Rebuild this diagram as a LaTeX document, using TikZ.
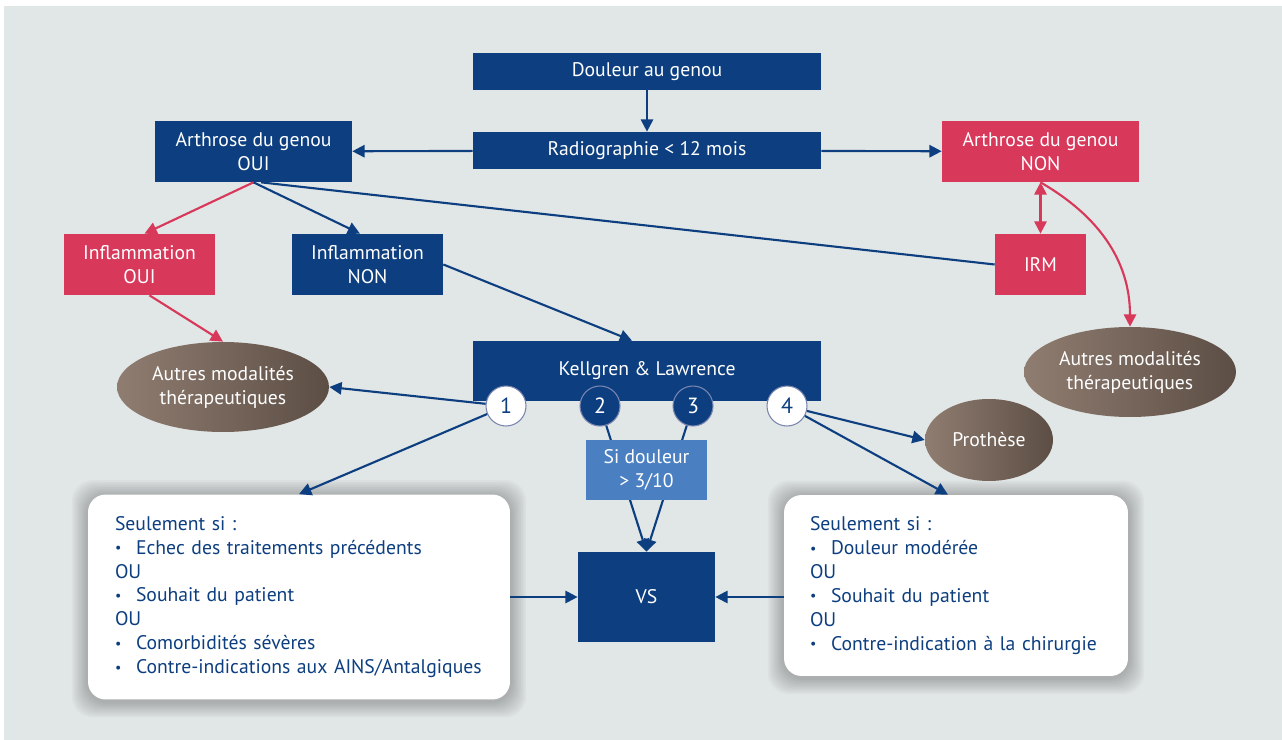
\documentclass[tikz,border=0pt]{standalone}
\usepackage{fontspec}
\setmainfont{PT Sans}
\usetikzlibrary{arrows.meta,shapes.geometric,backgrounds}
\definecolor{navy}{HTML}{0D3F80}
\definecolor{rose}{HTML}{D8385A}
\definecolor{sky}{HTML}{4A80C2}
\definecolor{bggray}{HTML}{E1E6E6}
\definecolor{brownL}{HTML}{907D71}
\definecolor{brownD}{HTML}{5C4E45}
\definecolor{ringline}{HTML}{7A86B0}
\newcommand{\itemdot}{\makebox[0.42cm][l]{\raisebox{0.15ex}{\footnotesize\textbullet}}}
\tikzset{
  bluebox/.style={fill=navy,text=white,align=center,inner sep=0pt},
  redbox/.style={fill=rose,text=white,align=center,inner sep=0pt},
  skybox/.style={fill=sky,text=white,align=center,inner sep=0pt},
  oval/.style={ellipse,left color=brownL,right color=brownD,text=white,align=center,inner sep=0pt},
  numw/.style={circle,fill=white,draw=ringline,line width=0.6pt,text=navy,minimum size=0.8cm,inner sep=0pt,font=\fontsize{12.5}{14}\selectfont},
  numb/.style={circle,fill=navy,draw=ringline,line width=0.6pt,text=white,minimum size=0.8cm,inner sep=0pt,font=\fontsize{12.5}{14}\selectfont},
  card/.style={rounded corners=10pt,fill=white,text=navy,align=left,inner sep=0pt},
  glow/.style={fill=black,opacity=0.028,rounded corners=12pt},
  arr/.style={draw=navy,line width=1.2pt,-{Triangle[length=7pt,width=7pt]}},
  redarr/.style={draw=rose,line width=1.2pt,-{Triangle[length=7pt,width=7pt]}},
  link/.style={draw=navy,line width=1.2pt}
}
\begin{document}
\begin{tikzpicture}[x=0.02cm,y=-0.02cm,font=\fontsize{11.2}{13.6}\selectfont]
\useasboundingbox (0,0) rectangle (1282,740);

\node[bluebox,minimum width=6.96cm,minimum height=0.74cm] (pain) at (647,71.5) {Douleur au genou};
\node[bluebox,minimum width=6.96cm,minimum height=0.74cm] (xray) at (647,150.5) {Radiographie < 12 mois};
\node[bluebox,minimum width=3.94cm,minimum height=1.22cm] (oaYes) at (253.5,151.5) {Arthrose du genou\\OUI};
\node[redbox,minimum width=3.94cm,minimum height=1.22cm] (oaNo) at (1040.5,151.5) {Arthrose du genou\\NON};
\node[redbox,minimum width=3.02cm,minimum height=1.22cm] (inflYes) at (139.5,264.5) {Inflammation\\OUI};
\node[bluebox,minimum width=3.02cm,minimum height=1.22cm] (inflNo) at (367.5,264.5) {Inflammation\\NON};
\node[redbox,minimum width=1.82cm,minimum height=1.22cm] (mri) at (1040.5,264.5) {IRM};
\node[bluebox,minimum width=6.96cm,minimum height=1.2cm] (kl) at (647,371) {Kellgren \& Lawrence};
\node[numw] (kl1) at (506,406) {1};
\node[numb] (kl2) at (600,406) {2};
\node[numb] (kl3) at (693,406) {3};
\node[numw] (kl4) at (787,406) {4};
\node[oval,minimum width=4.24cm,minimum height=1.8cm] (otherL) at (223,387) {Autres modalités\\thérapeutiques};
\node[oval,minimum width=4.24cm,minimum height=1.8cm] (otherR) at (1130,372) {Autres modalités\\thérapeutiques};
\node[oval,minimum width=2.56cm,minimum height=1.64cm] (prosth) at (989,440) {Prothèse};
\node[bluebox,minimum width=2.74cm,minimum height=1.8cm] (vs) at (646.5,597) {VS};
\node[card,minimum width=8.44cm,minimum height=4.1cm,text width=7.36cm] (cardL) at (299,597) {Seulement si :\\
\itemdot Echec des traitements précédents\\
OU\\
\itemdot Souhait du patient\\
OU\\
\itemdot Comorbidités sévères\\
\itemdot Contre-indications aux AINS/Antalgiques};
\node[card,minimum width=6.88cm,minimum height=3.62cm,text width=5.84cm] (cardR) at (956,585.5) {Seulement si :\\
\itemdot Douleur modérée\\
OU\\
\itemdot Souhait du patient\\
OU\\
\itemdot Contre-indication à la chirurgie};

\begin{scope}[on background layer]
\fill[white] (0,0) rectangle (1282,740);
\fill[bggray] (4,6) rectangle (1282,740);
\foreach \g in {1,...,9} {
  \fill[glow] ([shift={(-\g pt,\g pt-1pt)}]cardL.north west) rectangle ([shift={(\g pt,-\g pt-1pt)}]cardL.south east);
  \fill[glow] ([shift={(-\g pt,\g pt-1pt)}]cardR.north west) rectangle ([shift={(\g pt,-\g pt-1pt)}]cardR.south east);
}
\end{scope}

\draw[arr] (pain) -- (xray);
\draw[arr] (xray) -- (oaYes);
\draw[arr] (xray) -- (oaNo);
\draw[redarr] (oaYes.south) -- ([xshift=0.1cm]inflYes.north);
\draw[arr] (oaYes.south) -- ([xshift=-0.15cm]inflNo.north);
\draw[link] ([xshift=0.15cm]oaYes.south) -- (mri.west);
\draw[redarr,{Triangle[length=7pt,width=7pt]}-{Triangle[length=7pt,width=7pt]}] (oaNo) -- (mri);
\draw[redarr] (oaNo.south) to[out=-30,in=90] (otherR.north);
\draw[redarr] ([xshift=0.2cm]inflYes.south) -- (otherL.north);
\draw[arr] (inflNo.east) -- ([xshift=-0.3cm]kl.north);
\draw[arr] (kl1) -- (otherL.east);
\draw[arr] (kl1) -- (cardL.north);
\draw[arr] (kl2) -- (vs.north);
\draw[arr] (kl3) -- (vs.north);
\draw[arr] (kl4) -- (prosth.west);
\draw[arr] (kl4) -- ([xshift=-0.16cm]cardR.north);
\draw[arr] (cardL) -- (vs);
\draw[arr] (cardR.west |- vs) -- (vs.east);
\node[skybox,minimum width=2.42cm,minimum height=1.2cm] (cond) at (646.5,470) {Si douleur\\> 3/10};
\end{tikzpicture}
\end{document}
